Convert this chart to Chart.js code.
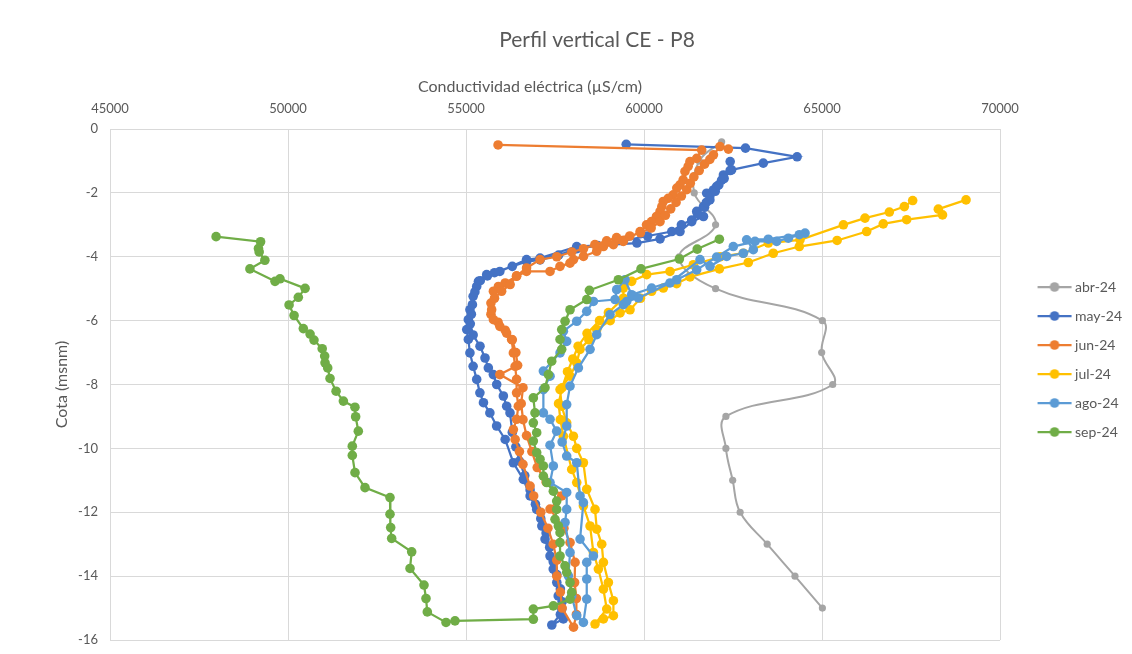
<!DOCTYPE html>
<html><head><meta charset="utf-8">
<script src="https://cdn.jsdelivr.net/npm/chart.js@4.4.1/dist/chart.umd.min.js"></script>
<style>html,body{margin:0;padding:0;background:#fff}canvas{display:block}</style>
</head><body>
<canvas id="c" width="1132" height="654"></canvas>
<script>
const chartTitle = 'Perfil vertical CE - P8';
const xTitle = 'Conductividad eléctrica (µS/cm)';
const yTitle = 'Cota (msnm)';
const seriesNames = ['abr-24','may-24','jun-24','jul-24','ago-24','sep-24'];
const seriesColors = ['#A5A5A5','#4472C4','#ED7D31','#FFC000','#5B9BD5','#70AD47'];
const xTicks = [45000,50000,55000,60000,65000,70000];
const yTicks = [0,-2,-4,-6,-8,-10,-12,-14,-16];

// [CE (µS/cm), cota (msnm)]
const abr24 = [[62180,-0.4],[61550,-1],[61410,-2],[62010,-3],[60990,-4],[62010,-5],[65010,-6],[64990,-7],[65300,-8],[62300,-9],[62300,-10],[62490,-11],[62700,-12],[63460,-13],[64240,-14],[65010,-15]];

const may24 = [[59500,-0.48],[62850,-0.60],[64300,-0.87],[63350,-1.07],[62460,-1.28],[62230,-1.44],[62180,-1.60],[62040,-1.80],[61950,-1.91],[61760,-2.01],
[61850,-2.22],[61670,-2.43],[61480,-2.58],[61670,-2.74],[61340,-2.90],[61010,-3.21],[60450,-3.44],[59800,-3.57],[58110,-3.68],[57080,-4.04],
[56700,-4.09],[55950,-4.46],[55580,-4.56],[55350,-4.77],[55300,-4.93],[55200,-5.24],[55110,-5.66],[55065,-5.97],[55020,-6.28],[55065,-6.59],
[55110,-7.01],[55200,-7.43],[55300,-7.84],[55390,-8.26],[55490,-8.57],[55670,-8.89],[55860,-9.30],[56100,-9.72],[56330,-10.45],[56610,-10.97],
[56800,-11.49],[56985,-11.91],[57130,-12.43],[57220,-12.84],[57360,-13.37],[57450,-13.78],[57550,-14.20],[57590,-14.62],[57690,-15.03],[57735,-15.34],[57410,-15.53],
[57650,-15.2],[57700,-14.8],[57650,-14.4],[57550,-13.95],[57450,-13.55],[57350,-13.1],[57250,-12.65],[57100,-12.2],[56950,-11.75],[56800,-11.3],
[56650,-10.85],[56500,-10.4],[56400,-9.95],[56300,-9.5],[56236,-8.89],[56142,-8.68],[56049,-8.36],[55862,-8.00],[55768,-7.69],[55627,-7.48],
[55534,-7.17],[55393,-6.80],[55200,-6.45],[55120,-6.1],[55150,-5.8],[55180,-5.5],[55250,-5.1],[55400,-4.75],[55600,-4.6],[55800,-4.5],
[56300,-4.3],[56704,-4.15],[57080,-4.1],[57600,-3.95],[58100,-3.75],[58700,-3.65],[59400,-3.5],[60100,-3.35],[60780,-3.21],[61050,-3.0],
[61340,-2.85],[61500,-2.65],[61700,-2.45],[61750,-2.3],[61850,-2.1],[62000,-1.95],[62100,-1.75],[62250,-1.55],[62420,-1.3],[62420,-1.02]];

const jun24 = [[55900,-0.50],[61620,-0.66],[61480,-0.92],[61290,-1.02],[61240,-1.17],[61150,-1.33],[61100,-1.59],[61010,-1.75],[60920,-1.85],[60820,-2.06],
[60680,-2.17],[60540,-2.27],[60500,-2.43],[60450,-2.58],[60350,-2.74],[60210,-2.90],[60070,-3.00],[59890,-3.21],[59420,-3.52],[59140,-3.62],
[58860,-3.68],[58670,-3.83],[58300,-3.99],[58020,-4.09],[57920,-4.20],[57640,-4.30],[57360,-4.46],[56700,-4.46],[56420,-4.61],[56100,-4.82],
[55910,-4.93],[55770,-5.08],[55700,-5.45],[55700,-5.8],[55900,-6.05],[56100,-6.3],[56300,-6.6],[56400,-7.0],[56450,-7.4],[55950,-7.69],
[56600,-8.1],[56550,-8.6],[56600,-9.1],[56700,-9.6],[56850,-10.1],[57000,-10.6],[57250,-11.05],[57688,-11.49],[57360,-11.90],[57750,-12.5],
[57922,-12.95],[58063,-13.57],[58050,-14.2],[58100,-14.7],[58100,-15.2],[58020,-15.60],
[57700,-15.00],[57650,-14.50],[57550,-14.00],[57550,-13.50],[57450,-13.00],[57300,-12.50],[57100,-12.00],[56900,-11.49],[56800,-11.18],[56600,-10.50],
[56500,-10.10],[56380,-9.72],[56330,-9.41],[56420,-9.09],[56470,-8.68],[56420,-8.26],[56420,-7.84],[56380,-7.43],[56330,-7.01],[56280,-6.59],
[56140,-6.39],[55950,-6.18],[55770,-5.97],[55720,-5.66],[55800,-5.30],[56000,-5.08],[56240,-4.87],[56420,-4.60],[56700,-4.35],[57080,-4.09],
[57550,-4.00],[57970,-3.85],[58300,-3.75],[58620,-3.62],[58950,-3.50],[59230,-3.40],[59600,-3.35],[59900,-3.25],[60200,-3.10],[60450,-2.90],
[60600,-2.70],[60750,-2.50],[60900,-2.30],[61050,-2.10],[61200,-1.90],[61300,-1.70],[61400,-1.50],[61550,-1.30],[61700,-1.10],[61850,-0.95],
[61950,-0.81],[62135,-0.55],[62370,-0.63]];

const jul24 = [[69045,-2.22],[68267,-2.51],[68384,-2.69],[67377,-2.84],[66720,-2.97],[66254,-3.21],[65424,-3.49],[64362,-3.68],[63631,-3.89],[62929,-4.18],
[62117,-4.38],[61292,-4.63],[60917,-4.84],[60542,-4.98],[60214,-5.08],[59900,-5.3],[59607,-5.66],[59326,-5.76],[59050,-6.0],[58672,-6.28],
[58450,-6.6],[58203,-6.9],[58110,-7.32],[57922,-7.74],[57641,-8.16],[57688,-8.68],[57828,-9.20],[58016,-9.62],[58110,-10.0],[58297,-10.45],
[58391,-11.28],[58624,-11.91],[58672,-12.53],[58812,-13.00],[58859,-13.57],[58999,-14.20],[59140,-14.77],[59140,-15.24],[58859,-15.34],[58624,-15.50],
[58953,-15.03],[58859,-14.41],[58718,-13.78],[58578,-13.26],[58484,-12.43],[58297,-11.80],[58110,-11.07],[57969,-10.66],[57735,-9.62],[57650,-9.1],
[57600,-8.6],[57700,-8.1],[57850,-7.6],[58000,-7.2],[58150,-6.8],[58400,-6.4],[58750,-6.0],[59000,-5.75],[59420,-5.3],[59420,-4.98],
[59653,-4.77],[60074,-4.56],[60730,-4.46],[61385,-4.25],[62135,-4.0],[62789,-3.89],[63491,-3.57],[64382,-3.47],[65600,-3.00],[66207,-2.79],
[66891,-2.60],[67312,-2.43],[67546,-2.24]];

const ago24 = [[64523,-3.26],[64054,-3.42],[63725,-3.52],[63117,-3.52],[62508,-3.68],[62040,-4.01],[61479,-4.41],[60917,-4.72],[60214,-4.98],[59653,-5.19],
[59466,-4.72],[59232,-5.03],[59186,-5.34],[58578,-5.40],[58391,-5.71],[58110,-6.02],[57735,-6.33],[57828,-6.65],[57641,-7.01],[57173,-7.58],
[57360,-7.74],[57173,-8.16],[57173,-8.89],[57360,-9.09],[57547,-9.46],[57360,-9.90],[57453,-10.55],[57360,-11.07],[57828,-11.38],[57828,-11.91],
[57781,-12.32],[57922,-13.26],[57875,-13.99],[57969,-14.62],[58110,-15.24],[58297,-15.45],
[58391,-14.72],[58391,-14.09],[58391,-13.57],[58578,-13.37],[58203,-12.84],[58297,-11.70],[58203,-11.49],[58110,-10.45],[57828,-10.24],[57700,-9.80],
[57828,-9.30],[57828,-8.63],[57922,-8.05],[58156,-7.48],[58484,-6.90],[58672,-6.44],[59045,-5.81],[59420,-5.50],[59514,-5.40],[59840,-5.29],
[60730,-4.82],[61573,-4.09],[61854,-4.30],[62321,-3.99],[62789,-3.89],[63070,-3.78],[62882,-3.47],[63491,-3.45],[64362,-3.31]];

const sep24 = [[47980,-3.37],[49230,-3.53],[49170,-3.74],[49190,-3.85],[49350,-4.11],[48930,-4.38],[49635,-4.77],[49775,-4.69],[50480,-4.99],[50290,-5.27],
[50030,-5.51],[50170,-5.84],[50430,-6.25],[50620,-6.42],[50730,-6.61],[50960,-6.88],[51030,-7.11],[51040,-7.32],[51115,-7.48],[51180,-7.81],
[51350,-8.21],[51555,-8.52],[51880,-8.71],[51900,-9.01],[51975,-9.46],[51806,-9.93],[51806,-10.22],[51882,-10.76],[52163,-11.23],[52865,-11.54],
[52865,-12.06],[52884,-12.48],[52912,-12.82],[53474,-13.24],[53427,-13.76],[53820,-14.28],[53876,-14.70],[53913,-15.12],[54438,-15.45],[54691,-15.40],
[56891,-15.35],[56891,-15.03],[57453,-14.93],[57922,-14.72],[57969,-14.51],[57922,-14.20],[57828,-13.88],[57781,-13.68],[57641,-13.37],[57641,-12.95],
[57641,-12.64],[57594,-12.43],[57500,-12.22],[57547,-11.91],[57547,-11.65],[57453,-11.34],[57266,-11.07],[57173,-10.87],[57173,-10.55],[57079,-10.34],
[56985,-10.13],[56891,-9.77],[56985,-9.51],[56891,-9.20],[56938,-8.89],[56891,-8.42],[57219,-8.10],[57313,-7.69],[57407,-7.27],[57688,-6.90],
[57641,-6.59],[57688,-6.28],[57782,-6.02],[57922,-5.66],[58391,-5.34],[58466,-5.05],[59280,-4.72],[59915,-4.38],[60993,-4.07],[61495,-3.76],[62117,-3.45]];

const seriesData = [abr24, may24, jun24, jul24, ago24, sep24];

const FONT = "Lato, 'Open Sans', sans-serif";
const TXT = '#595959';
const GRID = '#d9d9d9';

function legendIcon(color, r) {
  const c = document.createElement('canvas');
  c.width = 72; c.height = 12;
  const g = c.getContext('2d');
  g.strokeStyle = color; g.lineWidth = 2.25;
  g.beginPath(); g.moveTo(32, 6); g.lineTo(66, 6); g.stroke();
  g.fillStyle = color; g.beginPath(); g.arc(49, 6, r, 0, Math.PI * 2); g.fill();
  return c;
}

const datasets = seriesNames.map((name, i) => {
  const isAbr = i === 0;
  return {
    label: name,
    data: seriesData[i].map(p => ({x: p[0], y: p[1]})),
    showLine: true,
    borderColor: seriesColors[i],
    backgroundColor: seriesColors[i],
    pointBackgroundColor: seriesColors[i],
    pointBorderColor: seriesColors[i],
    borderWidth: isAbr ? 2 : 2.25,
    pointRadius: isAbr ? 3.6 : 4.8,
    pointBorderWidth: 0,
    pointHoverRadius: isAbr ? 3.6 : 4.8,
    tension: isAbr ? 0.4 : 0,
    order: seriesNames.length - i,
    pointStyle: 'circle',
    legendIcon: legendIcon(seriesColors[i], 4.8)
  };
});

const textPlugin = {
  id: 'texts',
  afterDraw(chart) {
    const ctx = chart.ctx;
    ctx.save();
    ctx.fillStyle = TXT;
    ctx.textAlign = 'center';
    ctx.textBaseline = 'middle';
    ctx.font = '21px ' + FONT;
    ctx.fillText(chartTitle, 597, 40);
    ctx.font = '16px ' + FONT;
    ctx.fillText(xTitle, 530, 87);
    ctx.restore();
  }
};

const legendShift = {
  id: 'legendShift',
  afterLayout(chart) {
    const l = chart.legend;
    if (l) { l.top += 4.5; l.bottom += 4.5; }
  }
};

new Chart(document.getElementById('c'), {
  type: 'scatter',
  data: { datasets },
  plugins: [textPlugin, legendShift],
  options: {
    responsive: false,
    animation: false,
    events: [],
    layout: { padding: { top: 70, bottom: 14, left: 0, right: 0 } },
    plugins: {
      title: { display: false },
      tooltip: { enabled: false },
      legend: {
        position: 'right',
        labels: {
          usePointStyle: true,
          pointStyleWidth: 53,
          padding: 15,
          color: TXT,
          font: { family: FONT, size: 14 },
          sort: (a, b) => a.datasetIndex - b.datasetIndex,
          generateLabels(chart) {
            return chart.data.datasets.map((ds, i) => ({
              text: ds.label,
              datasetIndex: i,
              pointStyle: ds.legendIcon,
              fillStyle: ds.borderColor,
              strokeStyle: ds.borderColor,
              lineWidth: 0,
              fontColor: TXT,
              hidden: false
            }));
          }
        }
      }
    },
    scales: {
      x: {
        type: 'linear',
        position: 'top',
        min: 45000, max: 70000,
        afterBuildTicks(scale) { scale.ticks = xTicks.map(v => ({value: v})); },
        afterFit(scale) { scale.height = 59; scale.paddingLeft = 0; scale.paddingRight = 0; },
        ticks: {
          color: TXT, font: { family: FONT, size: 13 }, padding: 12,
          maxRotation: 0, autoSkip: false,
          callback: v => String(v)
        },
        grid: { color: GRID, lineWidth: 1, drawTicks: false },
        border: { display: false },
        title: { display: false }
      },
      y: {
        type: 'linear',
        min: -16, max: 0,
        afterBuildTicks(scale) { scale.ticks = yTicks.map(v => ({value: v})); },
        afterFit(scale) { scale.width = 110; scale.paddingTop = 0; scale.paddingBottom = 0; },
        ticks: {
          color: TXT, font: { family: FONT, size: 13 }, padding: 12,
          callback: v => String(v)
        },
        grid: { color: GRID, lineWidth: 1, drawTicks: false },
        border: { display: false },
        title: {
          display: true, text: yTitle, color: TXT,
          font: { family: FONT, size: 16 },
          padding: { top: 52, bottom: 0 }
        }
      }
    }
  }
});
</script>
</body></html>
